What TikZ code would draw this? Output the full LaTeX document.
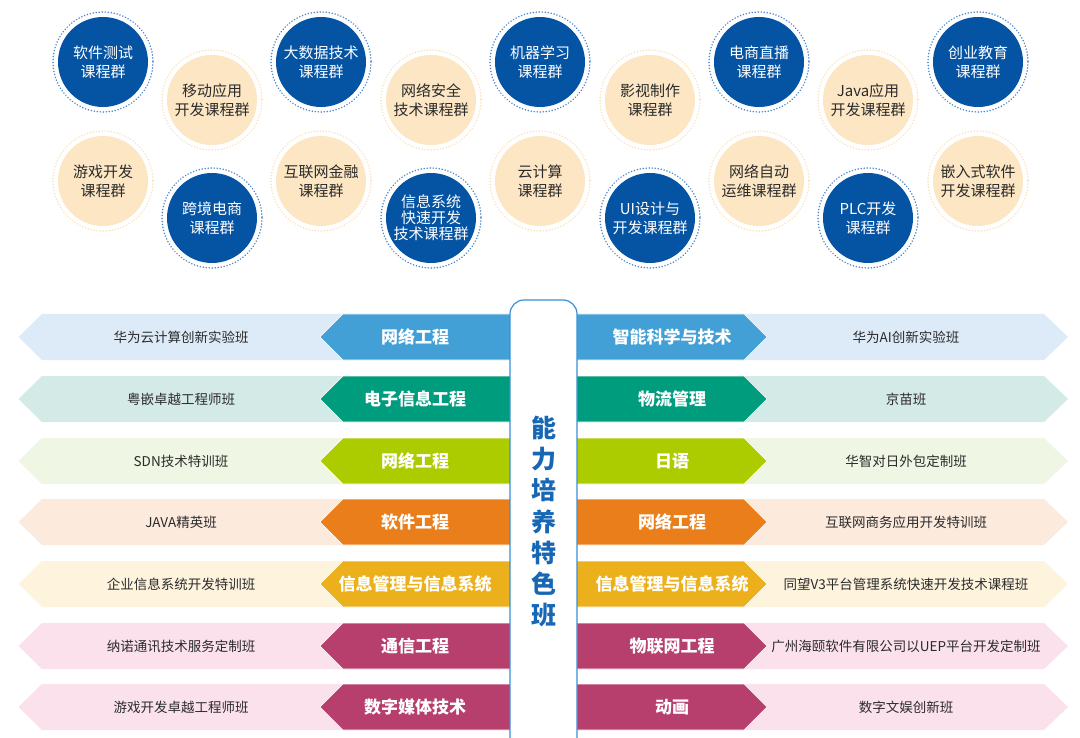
\documentclass[tikz,border=0pt]{standalone}
\usepackage{fontspec}
\setmainfont{Noto Sans CJK SC}
\definecolor{cblue}{HTML}{0554A4}
\definecolor{ringblue}{HTML}{4A86CC}
\definecolor{cbeige}{HTML}{FCE6C3}
\definecolor{ringbeige}{HTML}{FBE0BA}
\definecolor{ctext}{HTML}{2B2B2B}
\definecolor{colborder}{HTML}{3B8ED3}
\definecolor{titleblue}{HTML}{1767B5}
\definecolor{dA}{HTML}{42A0D6}\definecolor{lA}{HTML}{DDEBF8}
\definecolor{dB}{HTML}{009C7E}\definecolor{lB}{HTML}{D4EAE6}
\definecolor{dC}{HTML}{ADCC00}\definecolor{lC}{HTML}{F0F6E4}
\definecolor{dD}{HTML}{EA7E1A}\definecolor{lD}{HTML}{FCEADD}
\definecolor{dE}{HTML}{EBB01C}\definecolor{lE}{HTML}{FEF3DD}
\definecolor{dF}{HTML}{B63F6E}\definecolor{lF}{HTML}{FBE1EB}
\tikzset{
  circ/.style={circle, minimum size=90pt, inner sep=0pt, align=center, font=\fontsize{15}{19}\selectfont},
  bluec/.style={circ, fill=cblue, text=white},
  beigec/.style={circ, fill=cbeige, text=ctext},
  ringb/.style={draw=ringblue, line width=1.7pt, dash pattern=on 0.01pt off 3pt, line cap=round},
  ringy/.style={draw=ringbeige, line width=1.7pt, dash pattern=on 0.01pt off 3pt, line cap=round},
  lighttext/.style={font=\fontsize{13.5}{16}\selectfont, text=ctext},
  darktext/.style={font=\fontsize{17}{20}\selectfont\bfseries, text=white},
  chevron/.style={draw=white, line width=0.6pt, line join=miter},
}
\begin{document}
\begin{tikzpicture}[x=1pt,y=-1pt]
\path[use as bounding box, fill=white] (0,0) rectangle (1080,738);

% ---------- circles ----------
\foreach \n/\x/\y/\st/\txt in {
  a/103/62/b/{软件测试\\课程群},
  b/212/100/y/{移动应用\\开发课程群},
  c/321/62/b/{大数据技术\\课程群},
  d/431/100/y/{网络安全\\技术课程群},
  e/540/62/b/{机器学习\\课程群},
  f/650/100/y/{影视制作\\课程群},
  g/759/62/b/{电商直播\\课程群},
  h/868/100/y/{Java应用\\开发课程群},
  i/978/62/b/{创业教育\\课程群},
  j/103/181/y/{游戏开发\\课程群},
  k/212/218/b/{跨境电商\\课程群},
  l/321/181/y/{互联网金融\\课程群},
  n/540/181/y/{云计算\\课程群},
  o/650/218/b/{UI设计与\\开发课程群},
  p/759/181/y/{网络自动\\运维课程群},
  q/868/218/b/{PLC开发\\课程群},
  r/978/181/y/{嵌入式软件\\开发课程群}}{
  \if b\st
    \node[bluec] (c\n) at (\x,\y) {\txt};
    \draw[ringb] (c\n.center) circle[radius=50];
  \else
    \node[beigec] (c\n) at (\x,\y) {\txt};
    \draw[ringy] (c\n.center) circle[radius=50];
  \fi
}
\node[bluec, font=\fontsize{15}{16}\selectfont] (cm) at (431,218) {信息系统\\快速开发\\技术课程群};
\draw[ringb] (cm.center) circle[radius=50];

% ---------- rows ----------
\foreach \i/\c/\d/\l/\lt/\lc/\rc/\rt in {
  1/337/dA/lA/华为云计算创新实验班/网络工程/智能科学与技术/华为AI创新实验班,
  2/399/dB/lB/粤嵌卓越工程师班/电子信息工程/物流管理/京苗班,
  3/461/dC/lC/SDN技术特训班/网络工程/日语/华智对日外包定制班,
  4/522/dD/lD/JAVA精英班/软件工程/网络工程/互联网商务应用开发特训班,
  5/584/dE/lE/企业信息系统开发特训班/信息管理与信息系统/信息管理与信息系统/同望V3平台管理系统快速开发技术课程班,
  6/646/dF/lF/纳诺通讯技术服务定制班/通信工程/物联网工程/广州海颐软件有限公司以UEP平台开发定制班,
  7/707/dF/lF/游戏开发卓越工程师班/数字媒体技术/动画/数字文娱创新班}{
  % left light arrow
  \fill[\l] (18.6,\c) -- (42,\c-23) -- (515,\c-23) -- (515,\c+23) -- (42,\c+23) -- cycle;
  % right light arrow
  \fill[\l] (572,\c-23) -- (1044,\c-23) -- (1068,\c) -- (1044,\c+23) -- (572,\c+23) -- cycle;
  % left coloured chevron
  \filldraw[chevron, fill=\d] (320,\c) -- (343,\c-23) -- (515,\c-23) -- (515,\c+23) -- (343,\c+23) -- cycle;
  % right coloured chevron
  \filldraw[chevron, fill=\d] (572,\c-23) -- (744,\c-23) -- (767,\c) -- (744,\c+23) -- (572,\c+23) -- cycle;
  \node[lighttext] (lt\i) at (181,\c) {\lt};
  \node[darktext] (lc\i) at (415,\c) {\lc};
  \node[darktext] (rc\i) at (672,\c) {\rc};
  \node[lighttext] (rt\i) at (906,\c) {\rt};
}

% ---------- centre column ----------
\draw[colborder, line width=1.2pt, fill=white, rounded corners=14pt] (510,300) rectangle (577,760);
\node[align=center, text=titleblue, font=\fontsize{25}{31.2}\selectfont\bfseries] (title) at (543.5,521.5)
  {能\\力\\培\\养\\特\\色\\班};
\end{tikzpicture}
\end{document}
